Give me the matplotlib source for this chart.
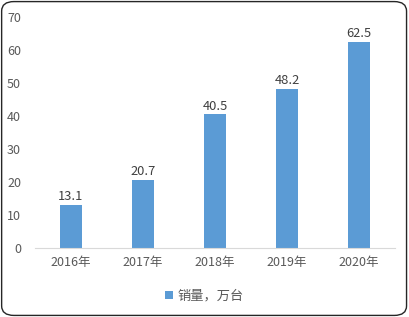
import matplotlib
matplotlib.use('Agg')
import matplotlib.pyplot as plt
from matplotlib.patches import FancyBboxPatch

plt.rcParams['font.family'] = ['Noto Sans CJK SC', 'DejaVu Sans']

years = ['2016年', '2017年', '2018年', '2019年', '2020年']
sales = [13.1, 20.7, 40.5, 48.2, 62.5]
series_name = '销量，万台'

bar_color = '#5B9BD5'
text_color = '#595959'

fig = plt.figure(figsize=(4.09, 3.17), dpi=100)
ax = fig.add_axes([0.0856, 0.2177, 0.880, 0.7283])

x = range(len(years))
bars = ax.bar(x, sales, width=0.31, color=bar_color, label=series_name)
for xi, v in zip(x, sales):
    ax.text(xi, v + 0.5, f'{v}', ha='center', va='bottom', fontsize=9.3, color='#404040')

ax.set_xlim(-0.5, len(years) - 0.5)
ax.set_ylim(0, 70)
ax.set_yticks(range(0, 71, 10))
ax.set_xticks(list(x))
ax.set_xticklabels(years)
ax.tick_params(axis='both', length=0, labelsize=9, colors=text_color)
ax.tick_params(axis='y', pad=10)
ax.tick_params(axis='x', pad=6)
for side in ['top', 'right', 'left']:
    ax.spines[side].set_visible(False)
ax.spines['bottom'].set_color('#D9D9D9')

leg = fig.legend(handles=[bars], labels=[series_name], loc='center',
                 bbox_to_anchor=(0.5, 0.066), frameon=False, fontsize=9.5,
                 handlelength=0.6, handleheight=0.6, handletextpad=0.3)
for t in leg.get_texts():
    t.set_color(text_color)

border = FancyBboxPatch((0.004, 0.005), 0.99, 0.99, boxstyle='round,pad=0,rounding_size=0.03',
                        transform=fig.transFigure, fill=False, edgecolor='#262626', linewidth=1.0)
fig.patches.append(border)

fig.savefig('out.png', dpi=100)
